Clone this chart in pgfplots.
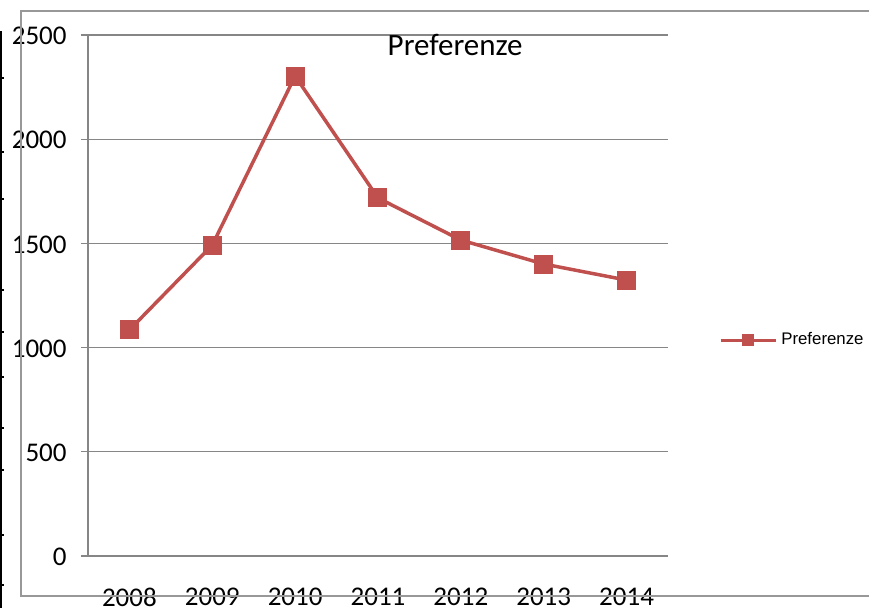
\documentclass[border=0pt]{standalone}
\usepackage{fontspec}
\setmainfont{Carlito}
\newfontfamily\legfont{Liberation Sans}
\usepackage{pgfplots}
\pgfplotsset{compat=1.18}
\definecolor{serie}{RGB}{192,80,77}
\definecolor{griglia}{RGB}{134,134,134}

\begin{document}
\begin{tikzpicture}
% 1px = 0.5pt, axis lower-left corner at (0,0)
\path[use as bounding box] (-44pt,-25.5pt) rectangle (390.5pt,278pt);
\begin{axis}[
    scale only axis,
    width=290pt, height=260.5pt,
    xmin=0, xmax=7,
    ymin=0, ymax=2500,
    axis lines*=left,
    axis line style={griglia, line width=0.6pt},
    xtick={0.5,1.5,...,6.5},
    xticklabels={2008,2009,2010,2011,2012,2013,2014},
    xtick style={draw=none},
    extra x ticks={0,1,...,7},
    extra x tick labels={},
    extra x tick style={tick style={draw=griglia, line width=0.6pt}, major tick length=3.5pt},
    ytick={0,500,...,2500},
    ytick style={draw=griglia, line width=0.6pt},
    major tick length=3.5pt,
    tick align=outside,
    ymajorgrids,
    grid style={griglia, line width=0.6pt},
    /pgf/number format/1000 sep={},
    /pgf/number format/assume math mode=true,
    tick label style={font=\fontsize{13.5}{16}\selectfont},
    yticklabel style={inner sep=0pt, xshift=-7pt, yshift=-0.5pt},
    xticklabel style={inner sep=0pt, anchor=north, yshift=-12.5pt},
    clip=false,
    legend style={at={(rel axis cs:1.087,0.414)}, anchor=west, draw=none, fill=none,
        inner sep=0pt, font=\legfont\fontsize{8.4}{10}\selectfont, legend cell align=left},
    legend image code/.code={
        \draw[#1, mark size=2.75pt, mark repeat=2, mark phase=2]
            plot coordinates {(0pt,0pt) (13.75pt,0pt) (27.5pt,0pt)};},
]
\addplot[serie, line width=1.75pt, mark=square*, mark size=4.5pt,
    mark options={solid, line width=0.5pt}] coordinates {
    (0.5,1085) (1.5,1492) (2.5,2303) (3.5,1718) (4.5,1516) (5.5,1401) (6.5,1324)
};
\addlegendentry{Preferenze}
\node[font=\fontsize{15.5}{18}\selectfont, inner sep=0pt]
    at (axis description cs:0.633,0.981) {Preferenze};
\end{axis}
% outer chart frame and the cut-off border at the left edge
\draw[griglia!85, line width=0.75pt] (400pt,272.5pt) -- (-33.5pt,272.5pt) -- (-33.5pt,-20pt) -- (400pt,-20pt);
\draw[black, line width=1pt] (-43.5pt,262.5pt) -- (-43.5pt,-30pt);
\foreach \t in {78,152,199,290,332,377,428,470,535,585}
    \draw[black, line width=0.6pt] (-44pt,{(556-\t)*0.5pt}) -- (-42pt,{(556-\t)*0.5pt});
\end{tikzpicture}
\end{document}
